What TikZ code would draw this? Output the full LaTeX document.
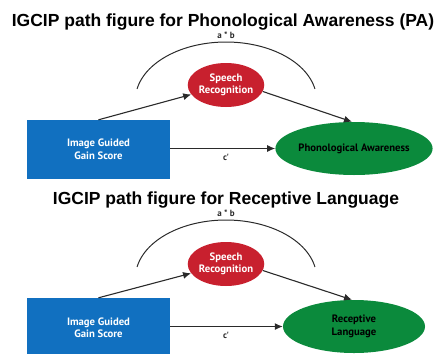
\documentclass[tikz,border=0pt]{standalone}
\usepackage{fontspec}
\setmainfont{Liberation Sans}
\newfontfamily\lblfont{PT Sans}
\usetikzlibrary{shapes.geometric,arrows.meta}
\definecolor{boxblue}{HTML}{1170C0}
\definecolor{medred}{HTML}{C8202E}
\definecolor{outgreen}{HTML}{0B8A3C}
\definecolor{inkgray}{HTML}{2A2A2A}
\begin{document}
\begin{tikzpicture}[x=1pt,y=-1pt,
  figtitle/.style={font=\fontsize{17.5}{20}\selectfont\bfseries, anchor=base, inner sep=0pt},
  nodetext/.style={font=\lblfont\bfseries\fontsize{10.7}{12.5}\selectfont, align=center, inner sep=0pt},
  predictor/.style={nodetext, rectangle, fill=boxblue, minimum width=143pt, minimum height=59pt, text=white},
  mediator/.style={nodetext, ellipse, fill=medred, minimum width=74pt, minimum height=44pt, text=white},
  outcome/.style={nodetext, ellipse, fill=outgreen, minimum width=142pt, minimum height=53pt, text=black},
  pathline/.style={draw=inkgray, line width=1.1pt, -{Latex[length=8pt,width=7pt]}},
  arcline/.style={draw=inkgray, line width=1pt},
  pathlabel/.style={font=\lblfont\bfseries\fontsize{9}{10}\selectfont, text=inkgray, inner sep=0pt}
]
\useasboundingbox (0,0) rectangle (443,353);
\clip (0,0) rectangle (443,353);

% ---------- Phonological Awareness model ----------
\node[figtitle] (titleA) at (223,27) {IGCIP path figure for Phonological Awareness (PA)};
\draw[arcline] plot[domain=191:349, samples=60, smooth] ({226+90.6*cos(\x)},{100+58*sin(\x)});
\node[pathlabel] (abA) at (226,35) {a * b};
\node[mediator] (medA) at (226,85) {Speech\\Recognition};
\node[predictor] (predA) at (98.5,149.5) {Image Guided\\Gain Score};
\node[outcome] (outA) at (354,148.5) {Phonological Awareness};
\draw[pathline] (predA.north) -- (medA);
\draw[pathline] (medA.-10) -- ([xshift=-2pt]outA.north);
\draw[pathline] (predA.east |- outA.west) -- (outA.west);
\node[pathlabel] (cA) at (226,157) {c'};

% ---------- Receptive Language model ----------
\begin{scope}[yshift=-178pt]
\node[figtitle] (titleB) at (226,26) {IGCIP path figure for Receptive Language};
\draw[arcline] plot[domain=191:349, samples=60, smooth] ({226+90.6*cos(\x)},{100+58*sin(\x)});
\node[pathlabel] (abB) at (226,35) {a * b};
\node[mediator] (medB) at (226,86) {Speech\\Recognition};
\node[predictor] (predB) at (98.5,149.5) {Image Guided\\Gain Score};
\node[outcome] (outB) at (354,148.5) {Receptive\\Language};
\draw[pathline] (predB.north) -- (medB);
\draw[pathline] (medB.-10) -- ([xshift=-2pt]outB.north);
\draw[pathline] (predB.east |- outB.west) -- (outB.west);
\node[pathlabel] (cB) at (226,157) {c'};
\end{scope}
\end{tikzpicture}
\end{document}
